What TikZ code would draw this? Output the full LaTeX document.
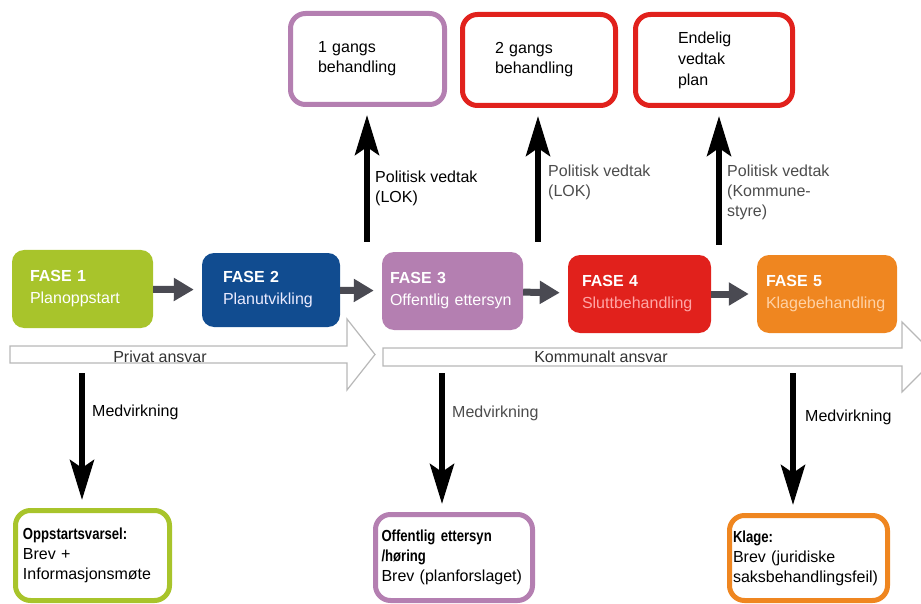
\documentclass[tikz,border=0pt]{standalone}
\usepackage{fontspec}
\setmainfont{Liberation Sans}
\newfontfamily\narrowfont[FakeStretch=0.82]{Liberation Sans}
\usetikzlibrary{arrows.meta}

\definecolor{fasegronn}{HTML}{A8C42B}
\definecolor{faseblaa}{HTML}{114C90}
\definecolor{faselilla}{HTML}{B47FB1}
\definecolor{faserod}{HTML}{E1211C}
\definecolor{faseoransje}{HTML}{EF8620}
\definecolor{pilgraa}{HTML}{4A4A52}

\newcommand{\overskrift}[1]{{\narrowfont\bfseries #1}}

\begin{document}
\begin{tikzpicture}[x = 1pt, y = -1pt,
        every node/.style = {font = \fontsize{16}{20}\selectfont, inner ysep = 0pt},
        fase/.style = {rounded corners = 12pt, align = left, text = white, minimum height = 78pt, font = \fontsize{16}{22}\selectfont},
        vedtak/.style = {draw, line width = 5pt, rounded corners = 15pt, fill = white, align = left, minimum height = 91pt},
        medvirk/.style = {draw, line width = 5pt, rounded corners = 15pt, fill = white, align = left},
        flyt/.style = {pilgraa, line width = 7pt, -{Triangle[length = 20pt, width = 22pt]}, shorten > = 8pt},
        svart/.style = {line width = 6pt, -{Stealth[length = 40pt, width = 24pt, inset = 8pt]}},
        ansvar/.style = {draw = black!28, line width = 1.2pt, fill = white},
        tekst/.style = {anchor = west, inner sep = 0pt, align = left}]

        \useasboundingbox (0, 0) rectangle (921, 604);
        \clip (0, 0) rectangle (921, 604);

        \draw[ansvar] (10, 346) -- (347, 346) -- (347, 319) -- (375, 354.5) -- (347, 390) -- (347, 363) -- (10, 363) -- cycle;
        \draw[ansvar] (383, 348) -- (902, 348) -- (902, 322) -- (937, 357) -- (902, 392) -- (902, 366) -- (383, 366) -- cycle;

        \node[text = black!80] (privat) at (160, 357) {Privat ansvar};
        \node[text = black!80] (kommunalt) at (601, 357) {Kommunalt ansvar};

        \node[fase, fill = fasegronn, minimum width = 141pt, text width = 105pt, inner xsep = 18pt] (fase1) at (82.5, 289) {\textbf{FASE 1}\\Planoppstart};
        \node[fase, fill = faseblaa, minimum width = 138pt, minimum height = 74pt, text width = 96pt, inner xsep = 21pt] (fase2) at (271, 290) {\textbf{FASE 2}\\\textcolor{blue!8}{Planutvikling}};
        \node[fase, fill = faselilla, minimum width = 141pt, text width = 125pt, inner xsep = 8pt] (fase3) at (452.5, 291) {\textbf{FASE 3}\\\mbox{Offentlig ettersyn}};
        \node[fase, fill = faserod, minimum width = 143pt, text width = 115pt, inner xsep = 14pt] (fase4) at (639.5, 294) {\textbf{FASE 4}\\\textcolor{red!35}{Sluttbehandling}};
        \node[fase, fill = faseoransje, minimum width = 140pt, text width = 122pt, inner xsep = 9pt] (fase5) at (827, 294) {\textbf{FASE 5}\\\textcolor{orange!35}{Klagebehandling}};

        \node[vedtak, draw = faselilla, minimum width = 154pt, text width = 99pt, inner xsep = 27.5pt] (vedtak1) at (367.5, 59) {1 gangs\\behandling};
        \node[vedtak, draw = faserod, minimum width = 153pt, text width = 88pt, inner xsep = 32.5pt] (vedtak2) at (539, 60) {2 gangs\\behandling};
        \node[vedtak, draw = faserod, minimum width = 157pt, text width = 72pt, inner xsep = 42.5pt, font = \fontsize{16}{21}\selectfont] (vedtak3) at (714, 60) {Endelig\\vedtak\\plan};

        \node[medvirk, draw = fasegronn, minimum width = 154pt, minimum height = 90pt, text width = 139pt, inner xsep = 7.5pt] (oppstart) at (92.5, 555.5) {\overskrift{Oppstartsvarsel:}\\Brev +\\Informasjonsmøte};
        \node[medvirk, draw = faselilla, minimum width = 157pt, minimum height = 86pt, text width = 145pt, inner xsep = 6pt] (ettersyn) at (454, 557.5) {\overskrift{Offentlig ettersyn}\\\overskrift{/høring}\\\mbox{Brev (planforslaget)}};
        \node[medvirk, draw = faseoransje, minimum width = 158pt, minimum height = 85pt, text width = 151pt, inner xsep = 3.5pt] (klage) at (808.5, 558) {\overskrift{Klage:}\\Brev (juridiske\\saksbehandlingsfeil)};

        \foreach \a/\b in {fase1/fase2, fase2/fase3, fase3/fase4, fase4/fase5}{
                \draw[flyt] (\a) -- (\b);
            }

        \coordinate (opp1) at (367, 242);
        \coordinate (opp2) at (538, 242);
        \coordinate (opp3) at (719, 245);
        \coordinate (ned1) at (82, 373);
        \coordinate (ned2) at (442, 373);
        \coordinate (ned3) at (793, 373);

        \foreach \i/\boks in {1/vedtak1, 2/vedtak2, 3/vedtak3}{
                \draw[svart, shorten > = 8pt] (opp\i) -- (opp\i |- \boks.south);
            }

        \foreach \i/\boks in {1/oppstart, 2/ettersyn, 3/klage}{
                \draw[svart, shorten > = 8pt] (ned\i) -- (ned\i |- \boks.north);
            }

        \node[tekst] (politisk1) at (375, 188) {Politisk vedtak\\(LOK)};
        \node[tekst, text = black!70] (politisk2) at (548, 182) {Politisk vedtak\\(LOK)};
        \node[tekst, text = black!70] (politisk3) at (727, 192) {Politisk vedtak\\(Kommune-\\styre)};

        \node[tekst] (medvirkning1) at (92, 412) {Medvirkning};
        \node[tekst, text = black!70] (medvirkning2) at (452, 413) {Medvirkning};
        \node[tekst] (medvirkning3) at (805, 417) {Medvirkning};

    \end{tikzpicture}
\end{document}
